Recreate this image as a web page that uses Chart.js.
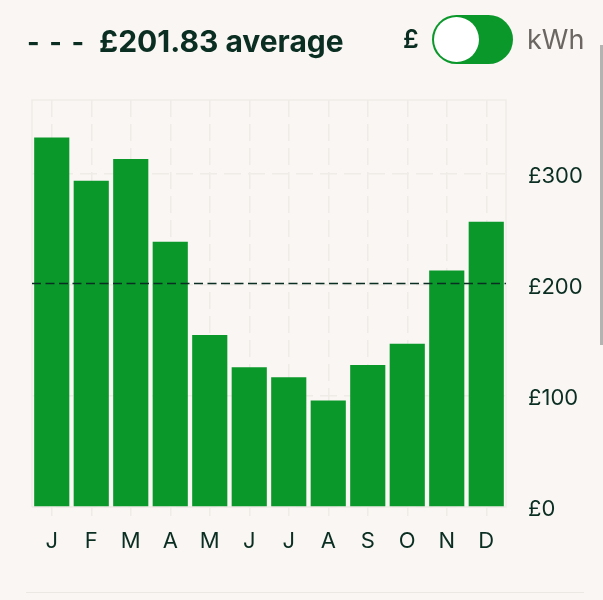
<!DOCTYPE html>
<html><head><meta charset="utf-8">
<script src="https://cdn.jsdelivr.net/npm/chart.js@4"></script>
<style>
html,body{margin:0;padding:0;background:#f9f6f3;width:603px;height:600px;overflow:hidden;font-family:Inter,sans-serif;color:#0b2e22}
#wrap{position:relative;width:603px;height:600px}
canvas{position:absolute;left:0;top:0}
.t{position:absolute;white-space:nowrap;line-height:1}
#dash{left:27px;top:29px;font-size:27px;font-weight:700;letter-spacing:1.6px}
#avg{left:99px;top:26px;font-size:30px;font-weight:700;letter-spacing:0}
#p{left:403px;top:27px;font-size:25px;font-weight:600}
#k{left:527px;top:26px;font-size:27px;color:#6b6661}
#tog{position:absolute;left:432px;top:15px;width:81px;height:49px;border-radius:25px;background:#0b982b}
#knob{position:absolute;left:2px;top:2px;width:45px;height:45px;border-radius:50%;background:#fff}
#rule{position:absolute;left:26px;top:592px;width:558px;height:1px;background:#ebe7e3}
#sb{position:absolute;left:600px;top:45px;width:3px;height:300px;background:#b5b3b1}
</style></head><body><div id="wrap">
<canvas id="c" width="603" height="600"></canvas>
<div class="t" id="dash">- - -</div>
<div class="t" id="avg">£201.83 average</div>
<div class="t" id="p">£</div>
<div id="tog"><div id="knob"></div></div>
<div class="t" id="k">kWh</div>
<div id="rule"></div><div id="sb"></div>
</div>
<script>
const months=["J","F","M","A","M","J","J","A","S","O","N","D"];
const costs=[333,294,313.5,239,155,126,117,96,128,147,213,257];
const average=201.83;
const yTicks=[0,100,200,300];
const yMax=366.7;

const overlay={id:'overlay',
 beforeDatasetsDraw(ch){const a=ch.chartArea,x=ch.ctx;x.save();x.strokeStyle='#efebe7';x.lineWidth=1.5;
  x.beginPath();x.moveTo(a.left,a.bottom);x.lineTo(a.left,a.top);x.lineTo(a.right,a.top);x.lineTo(a.right,a.bottom);x.lineTo(a.left,a.bottom);x.stroke();x.restore();},
 afterDatasetsDraw(ch){const a=ch.chartArea,x=ch.ctx,y=Math.round(ch.scales.y.getPixelForValue(average))+.5;
  x.save();x.strokeStyle='#0b2e22';x.lineWidth=1.4;x.setLineDash([9,4.5]);x.beginPath();x.moveTo(a.left,y);x.lineTo(a.right,y);x.stroke();x.restore();}
};
new Chart(document.getElementById('c'),{
 type:'bar',
 data:{labels:months,datasets:[{data:costs,backgroundColor:'#0b982b',categoryPercentage:1,barPercentage:.89}]},
 plugins:[overlay],
 options:{responsive:false,animation:false,devicePixelRatio:1,
  layout:{padding:{left:32,top:100,right:0,bottom:0}},
  plugins:{legend:{display:false},tooltip:{enabled:false}},
  scales:{
   x:{afterFit(s){s.height=93},
    grid:{color:'#efebe7',lineWidth:1.5,tickLength:9,drawTicks:true,offset:false,tickColor:'#efebe7'},
    border:{display:false,dash:[17,7]},
    ticks:{color:'#0b2e22',font:{family:'Inter',size:22},padding:12,maxRotation:0,autoSkip:false}},
   y:{position:'right',min:0,max:yMax,
    afterFit(s){s.width=97;
     const draw=Object.getPrototypeOf(s).drawLabels;
     s.drawLabels=function(area){const c=this.ctx;c.save();c.translate(0,2);draw.call(this,area);c.restore();};},
    afterBuildTicks(s){s.ticks=yTicks.map(v=>({value:v}))},
    grid:{color:'#efebe7',lineWidth:1.5,drawTicks:false},
    border:{display:false,dash:[17,7]},
    ticks:{color:'#0b2e22',font:{family:'Inter',size:22},padding:22,callback:v=>'£'+v}}
  }}
});
</script></body></html>
